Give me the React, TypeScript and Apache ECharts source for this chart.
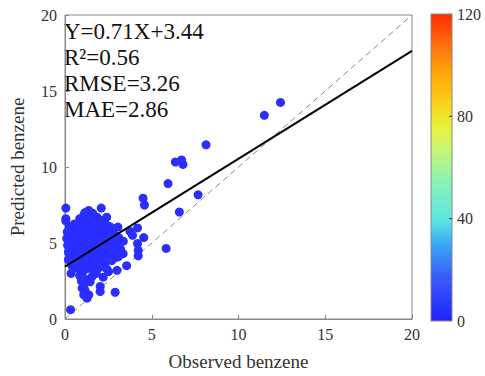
import React, { useEffect, useRef } from "react";
import * as echarts from "echarts";

const observed = [
  12.42, 11.49, 8.13, 6.36, 6.72, 6.8, 5.94, 4.5, 4.58, 7.67, 6.59, 5.83, 4.18, 4.54, 4.18, 4.22, 4.22, 3.55, 3.74, 3.89, 3.36,
  0.05, 0.05, 0.05, 0.13, 0.1, 0.15, 0.2, 0.25, 0.32,
  1.08, 1.37, 2.09, 1.6, 1.25, 0.95, 1.85, 2.3, 1.55, 0.7, 1.15, 1.45, 2.05, 2.55, 0.85, 1.7, 1.3, 2.8, 3.05, 2.4, 1.95,
  0.4, 0.55, 0.65, 0.8, 0.9, 1.0, 1.1, 1.2, 1.3, 1.4, 1.5, 1.6, 1.7, 1.8, 1.9, 2.0, 2.1, 2.2, 2.35, 2.45, 2.6, 2.75, 2.9, 3.1,
  0.45, 0.6, 0.75, 0.85, 1.0, 1.15, 1.25, 1.35, 1.45, 1.55, 1.65, 1.75, 1.85, 1.95, 2.05, 2.15, 2.25, 2.4, 2.5, 2.65, 2.8, 2.95, 3.2, 3.35,
  0.35, 0.5, 0.65, 0.8, 0.95, 1.1, 1.2, 1.4, 1.55, 1.7, 1.9, 2.1, 2.3, 2.55, 2.7, 2.95,
  0.4, 0.6, 0.9, 1.25, 1.6, 2.0, 2.4, 3.08, 0.3, 0.55, 0.75, 1.05, 1.35, 1.65, 1.75, 2.2, 2.5, 2.7, 0.2, 0.35, 1.0,
  1.56, 1.08, 0.99, 1.08, 1.27, 1.37, 2.03, 2.03, 2.89, 2.51, 1.2, 1.8, 0.85, 1.45, 2.2, 1.15, 0.95, 3.0,
];

const predicted = [
  14.25, 13.4, 11.46, 10.33, 10.46, 10.17, 8.91, 7.95, 7.5, 8.17, 7.04, 4.64, 5.99, 5.36, 4.97, 4.53, 4.16, 3.51, 5.77, 5.51, 5.12,
  7.3, 6.6, 6.45, 5.73, 5.3, 4.85, 4.4, 6.05, 0.61,
  6.82, 7.14, 7.3, 6.95, 6.55, 6.3, 6.7, 6.3, 6.2, 6.05, 7.0, 6.65, 6.5, 6.1, 6.6, 6.4, 6.15, 5.95, 6.05, 6.7, 6.05,
  5.6, 5.3, 5.8, 5.5, 5.1, 5.7, 5.35, 5.9, 5.55, 5.2, 5.8, 5.45, 5.05, 5.65, 5.3, 5.9, 5.5, 5.15, 5.75, 5.4, 5.6, 5.25, 5.5, 5.35,
  4.9, 4.6, 4.95, 4.4, 4.75, 4.5, 4.95, 4.3, 4.7, 4.95, 4.45, 4.8, 4.25, 4.65, 4.9, 4.4, 4.75, 4.55, 4.95, 4.7, 4.45, 4.85, 4.6, 4.3,
  4.2, 3.95, 4.15, 3.8, 4.05, 3.7, 4.2, 3.9, 3.6, 4.05, 3.75, 4.0, 3.65, 4.15, 3.85, 4.05,
  3.5, 3.35, 3.45, 3.3, 3.25, 3.4, 3.3, 4.1, 5.1, 6.25, 5.15, 6.1, 6.4, 5.9, 6.2, 5.95, 5.2, 6.0, 3.9, 3.0, 3.05,
  2.79, 2.24, 2.03, 1.59, 1.37, 1.59, 2.14, 1.81, 1.76, 3.12, 2.6, 3.0, 2.85, 2.45, 2.75, 1.9, 2.5, 3.2,
];

const axisTicks = [0, 5, 10, 15, 20];
const fitSlope = 0.71;
const fitIntercept = 3.44;
const statLines = ["Y=0.71X+3.44", "R\u00B2=0.56", "RMSE=3.26", "MAE=2.86"];
const colorbarTicks = [0, 40, 80, 120];

const FONT = "Liberation Serif";

export default function App() {
  const ref = useRef<HTMLDivElement>(null);
  useEffect(() => {
    if (!ref.current) return;
    const chart = echarts.init(ref.current, null, { renderer: "svg" });
    const points = observed.map((x, i) => [x, predicted[i]]);
    const axMin = axisTicks[0];
    const axMax = axisTicks[axisTicks.length - 1];
    const fitLine = [
      [axMin, fitSlope * axMin + fitIntercept],
      [axMax, fitSlope * axMax + fitIntercept],
    ];

    const gridLeft = 61, gridTop = 15, gridRight = 73, gridBottom = 55;
    const cbX = 431, cbY = 14, cbW = 21, cbH = 307;
    const cbMax = colorbarTicks[colorbarTicks.length - 1];
    const graphics: any[] = [];
    graphics.push({
      type: "rect",
      shape: { x: cbX, y: cbY, width: cbW, height: cbH },
      style: {
        fill: new echarts.graphic.LinearGradient(0, 1, 0, 0, [
          { offset: 0, color: "#1f22ff" },
          { offset: 0.15, color: "#3a60f5" },
          { offset: 0.25, color: "#3aa8f5" },
          { offset: 0.33, color: "#5ee6e0" },
          { offset: 0.45, color: "#88f2b8" },
          { offset: 0.55, color: "#c2f67a" },
          { offset: 0.62, color: "#e6f545" },
          { offset: 0.7, color: "#f8d520" },
          { offset: 0.8, color: "#ffaa08" },
          { offset: 0.9, color: "#ff7010" },
          { offset: 1, color: "#ff2a00" },
        ]),
        stroke: "#888",
        lineWidth: 1,
      },
    });
    colorbarTicks.forEach((t) => {
      const y = cbY + cbH - (t / cbMax) * cbH;
      graphics.push({
        type: "text",
        x: cbX + cbW + 5,
        y,
        style: { text: String(t), font: `16px "${FONT}"`, fill: "#333", verticalAlign: "middle", align: "left" },
      });
      if (t !== 0 && t !== cbMax) {
        graphics.push({
          type: "line",
          shape: { x1: cbX + cbW - 3, y1: y, x2: cbX + cbW, y2: y },
          style: { stroke: "#333", lineWidth: 1 },
        });
      }
    });
    statLines.forEach((s, i) => {
      graphics.push({
        type: "text",
        x: 64,
        y: 31 + i * 26.3,
        style: { text: s, font: `23px "${FONT}"`, fill: "#111", verticalAlign: "middle", align: "left" },
      });
    });

    chart.setOption({
      animation: false,
      backgroundColor: "#fff",
      textStyle: { fontFamily: FONT },
      grid: {
        left: gridLeft,
        top: gridTop,
        right: gridRight,
        bottom: gridBottom,
        show: true,
        borderColor: "#888",
        borderWidth: 1,
        backgroundColor: "transparent",
      },
      xAxis: {
        type: "value",
        min: axMin,
        max: axMax,
        interval: 5,
        name: "Observed benzene",
        nameLocation: "middle",
        nameGap: 33,
        nameTextStyle: { fontFamily: FONT, fontSize: 19, color: "#333" },
        axisLine: { show: true, lineStyle: { color: "#888" } },
        axisTick: { show: true, inside: true, length: 4, lineStyle: { color: "#888" } },
        axisLabel: { fontFamily: FONT, fontSize: 16, color: "#333", margin: 7 },
        splitLine: { show: false },
      },
      yAxis: {
        type: "value",
        min: axMin,
        max: axMax,
        interval: 5,
        name: "Predicted benzene",
        nameLocation: "middle",
        nameGap: 38,
        nameTextStyle: { fontFamily: FONT, fontSize: 19, color: "#333" },
        axisLine: { show: true, lineStyle: { color: "#888" } },
        axisTick: { show: true, inside: true, length: 4, lineStyle: { color: "#888" } },
        axisLabel: { fontFamily: FONT, fontSize: 16, color: "#333", margin: 8 },
        splitLine: { show: false },
      },
      series: [
        {
          type: "line",
          data: [
            [axMin, axMin],
            [axMax, axMax],
          ],
          symbol: "none",
          lineStyle: { color: "#8a8a8a", width: 1, type: [6, 4] },
          z: 1,
        },
        {
          type: "scatter",
          data: points,
          symbolSize: 9,
          itemStyle: { color: "#2a2eff", opacity: 1 },
          z: 2,
        },
        {
          type: "line",
          data: fitLine,
          symbol: "none",
          lineStyle: { color: "#000", width: 2 },
          z: 3,
        },
      ],
      graphic: graphics,
    });
    return () => chart.dispose();
  }, []);
  return <div ref={ref} style={{ position: "fixed", left: 0, top: 0, width: 485, height: 376 }} />;
}
